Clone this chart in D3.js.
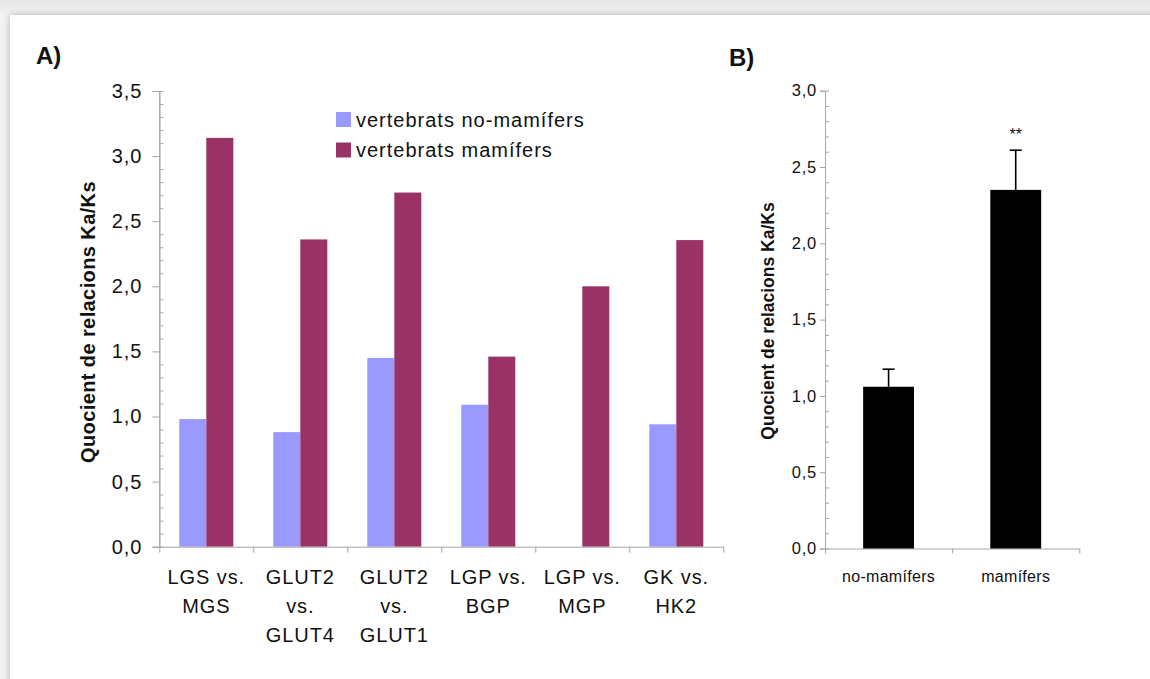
<!DOCTYPE html>
<html>
<head>
<meta charset="utf-8">
<script src="https://cdn.jsdelivr.net/npm/d3@7"></script>
<style>
  body { margin: 0; width: 1150px; height: 679px; overflow: hidden;
         background: linear-gradient(#e6e6e6, #f3f3f3 15px, #f3f3f3); position: relative; }
  #card { position: absolute; left: 10px; top: 15px; width: 1160px; height: 700px;
          background: #fff; box-shadow: 0 0 7px rgba(0,0,0,0.28); }
  svg { position: absolute; left: 0; top: 0; }
  text { font-family: "Liberation Sans", Arial, sans-serif; fill: #111; }
</style>
</head>
<body>
<div id="card"></div>
<svg width="1150" height="679"></svg>
<script>
// Panel A data
var categories = ["LGS vs.\nMGS", "GLUT2\nvs.\nGLUT4", "GLUT2\nvs.\nGLUT1", "LGP vs.\nBGP", "LGP vs.\nMGP", "GK vs.\nHK2"];
var seriesNames = ["vertebrats no-mamífers", "vertebrats mamífers"];
var noMamifers = [0.98, 0.88, 1.45, 1.09, null, 0.94];
var mamifers = [3.14, 2.36, 2.72, 1.46, 2.00, 2.355];
var ticksA = [0, 0.5, 1.0, 1.5, 2.0, 2.5, 3.0, 3.5];

// Panel B data
var groupsB = ["no-mamífers", "mamífers"];
var meansB = [1.06, 2.35];
var errorsB = [0.115, 0.26];
var signifB = ["", "**"];
var ticksB = [0, 0.5, 1.0, 1.5, 2.0, 2.5, 3.0];

var colors = ["#9999ff", "#993366"];
var axisColor = "#a6a6a6";
var fmt = function(d) { return d3.format(".1f")(d).replace(".", ","); };

var svg = d3.select("svg");

function styleAxis(g) {
  g.select(".domain").attr("stroke", axisColor);
  g.selectAll(".tick line").attr("stroke", axisColor);
}

// ---------- Panel A ----------
var yA = d3.scaleLinear().domain([0, 3.5]).range([546.7, 91]);
var xA = d3.scaleBand().domain(d3.range(categories.length)).range([159.3, 723.3]);
var xA1 = d3.scaleBand().domain([0, 1]).range([0, xA.bandwidth()]).paddingOuter(0.74);

svg.append("text").attr("x", 36).attr("y", 64)
  .style("font-size", "24px").style("font-weight", "bold").text("A)");

// minor ticks (inside)
var minorA = d3.range(0, 36).map(function(i) { return i / 10; }).filter(function(v, i) { return i % 5 != 0; });
svg.append("g").attr("transform", "translate(159.3,0)")
  .call(d3.axisRight(yA).tickValues(minorA).tickSize(4).tickFormat(""))
  .call(styleAxis);

var gyA = svg.append("g").attr("transform", "translate(159.3,0)")
  .call(d3.axisLeft(yA).tickValues(ticksA).tickSize(7).tickPadding(10).tickFormat(fmt))
  .call(styleAxis);
gyA.selectAll(".tick text").style("font-size", "20px").style("letter-spacing", "0.9px").attr("fill", "#111");

// bars
var rows = categories.map(function(c, i) { return [noMamifers[i], mamifers[i]]; });
var groups = svg.append("g").selectAll("g").data(rows).enter().append("g")
  .attr("transform", function(d, i) { return "translate(" + xA(i) + ",0)"; });
groups.selectAll("rect")
  .data(function(d) { return d.map(function(v, s) { return { v: v, s: s }; }).filter(function(o) { return o.v != null; }); })
  .enter().append("rect")
  .attr("x", function(d) { return xA1(d.s); })
  .attr("width", xA1.bandwidth())
  .attr("y", function(d) { return yA(d.v); })
  .attr("height", function(d) { return yA(0) - yA(d.v); })
  .attr("fill", function(d) { return colors[d.s]; });

// x axis with ticks between categories
var xbA = d3.scaleLinear().domain([0, categories.length]).range(xA.range());
svg.append("g").attr("transform", "translate(0," + yA(0) + ")")
  .call(d3.axisBottom(xbA).ticks(categories.length).tickSize(6).tickSizeOuter(0).tickFormat(""))
  .call(styleAxis);

var catText = svg.append("g").selectAll("text").data(categories).enter().append("text")
  .attr("text-anchor", "middle")
  .attr("x", function(d, i) { return xA(i) + xA.bandwidth() / 2; })
  .attr("y", 584)
  .style("font-size", "20px").style("letter-spacing", "0.9px");
catText.selectAll("tspan").data(function(d) { return d.split("\n"); }).enter().append("tspan")
  .attr("x", function() { return d3.select(this.parentNode).attr("x"); })
  .attr("dy", function(d, i) { return i == 0 ? 0 : 29; })
  .text(function(d) { return d; });

svg.append("text")
  .attr("transform", "translate(95,322) rotate(-90)")
  .attr("text-anchor", "middle")
  .style("font-size", "20px").style("font-weight", "bold")
  .style("letter-spacing", "0.4px")
  .text("Quocient de relacions Ka/Ks");

// legend
var leg = svg.append("g").selectAll("g").data(seriesNames).enter().append("g")
  .attr("transform", function(d, i) { return "translate(336," + (112 + i * 30.5) + ")"; });
leg.append("rect").attr("width", 15).attr("height", 15).attr("fill", function(d, i) { return colors[i]; });
leg.append("text").attr("x", 20).attr("y", 14.5)
  .style("font-size", "20px").style("letter-spacing", "1px")
  .text(function(d) { return d; });

// ---------- Panel B ----------
var yB = d3.scaleLinear().domain([0, 3]).range([548.5, 90.7]);
var xB = d3.scaleBand().domain(groupsB).range([825, 1079.3]).paddingInner(0.6).paddingOuter(0.3);

svg.append("text").attr("x", 729).attr("y", 66)
  .style("font-size", "24px").style("font-weight", "bold").text("B)");

var minorB = d3.range(0, 31).map(function(i) { return i / 10; }).filter(function(v, i) { return i % 5 != 0; });
svg.append("g").attr("transform", "translate(825,0)")
  .call(d3.axisRight(yB).tickValues(minorB).tickSize(4).tickFormat(""))
  .call(styleAxis);

var gyB = svg.append("g").attr("transform", "translate(825,0)")
  .call(d3.axisLeft(yB).tickValues(ticksB).tickSize(5).tickPadding(3).tickFormat(fmt))
  .call(styleAxis);
gyB.selectAll(".tick text").style("font-size", "16.5px").style("letter-spacing", "0.8px").attr("fill", "#111");

var xbB = d3.scaleLinear().domain([0, groupsB.length]).range(xB.range());
svg.append("g").attr("transform", "translate(0," + yB(0) + ")")
  .call(d3.axisBottom(xbB).ticks(groupsB.length).tickSize(5).tickSizeOuter(0).tickFormat(""))
  .call(styleAxis);

svg.append("g").selectAll("rect").data(groupsB).enter().append("rect")
  .attr("x", function(d) { return xB(d); })
  .attr("width", xB.bandwidth())
  .attr("y", function(d, i) { return yB(meansB[i]); })
  .attr("height", function(d, i) { return yB(0) - yB(meansB[i]); })
  .attr("fill", "#000");

var err = svg.append("g").selectAll("g").data(groupsB).enter().append("g")
  .attr("transform", function(d) { return "translate(" + (xB(d) + xB.bandwidth() / 2) + ",0)"; });
err.append("line")
  .attr("y1", function(d, i) { return yB(meansB[i]); })
  .attr("y2", function(d, i) { return yB(meansB[i] + errorsB[i]); })
  .attr("stroke", "#000").attr("stroke-width", 1.6);
err.append("line")
  .attr("x1", -6).attr("x2", 6)
  .attr("y1", function(d, i) { return yB(meansB[i] + errorsB[i]); })
  .attr("y2", function(d, i) { return yB(meansB[i] + errorsB[i]); })
  .attr("stroke", "#000").attr("stroke-width", 1.6);
err.append("text").attr("text-anchor", "middle")
  .attr("y", function(d, i) { return yB(meansB[i] + errorsB[i]) - 10; })
  .style("font-size", "16px")
  .text(function(d, i) { return signifB[i]; });

svg.append("g").selectAll("text").data(groupsB).enter().append("text")
  .attr("text-anchor", "middle")
  .attr("x", function(d) { return xB(d) + xB.bandwidth() / 2; })
  .attr("y", 582)
  .style("font-size", "16px").style("letter-spacing", "0.3px")
  .text(function(d) { return d; });

svg.append("text")
  .attr("transform", "translate(774,321) rotate(-90)")
  .attr("text-anchor", "middle")
  .style("font-size", "17.5px").style("font-weight", "bold")
  .text("Quocient de relacions Ka/Ks");
</script>
</body>
</html>
